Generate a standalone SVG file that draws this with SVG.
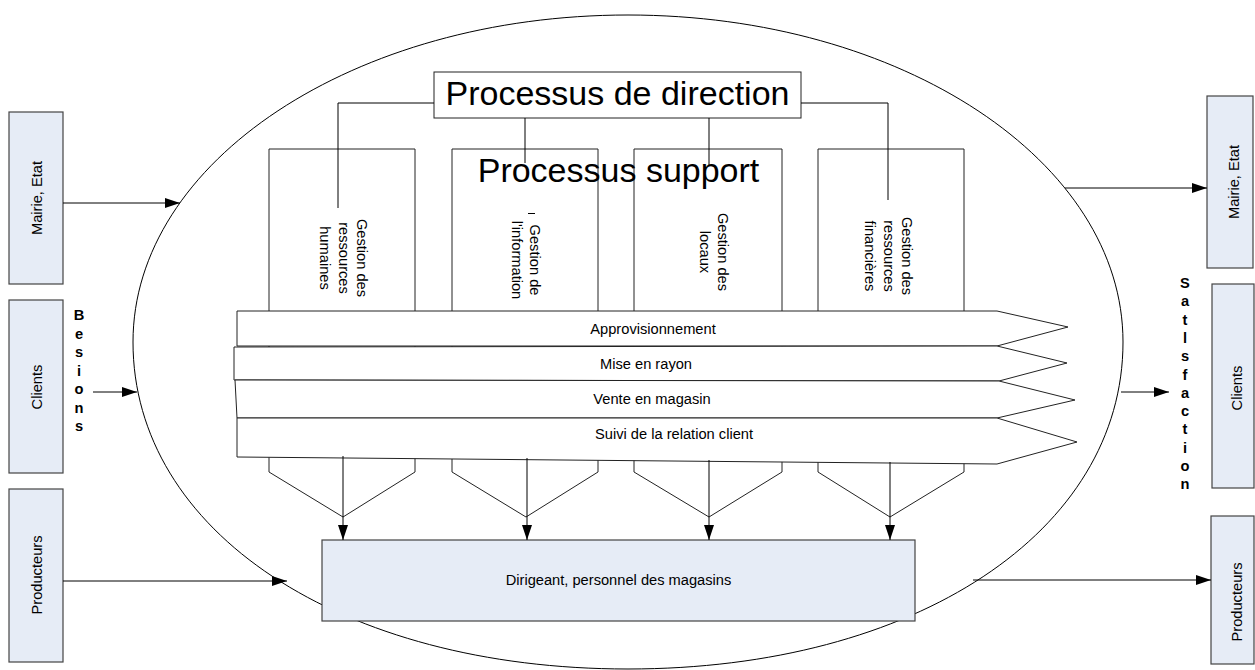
<svg xmlns="http://www.w3.org/2000/svg" width="1255" height="670" viewBox="0 0 1255 670">
<defs>
<marker id="ah" markerWidth="15" markerHeight="10" refX="15" refY="5" orient="auto" markerUnits="userSpaceOnUse"><path d="M0,0 L15,5 L0,10 Z" fill="#000"/></marker>
<style>
.box{fill:#E6ECF6;stroke:#444;stroke-width:1.2}
.wbox{fill:#fff;stroke:#222;stroke-width:1}
.ln{fill:none;stroke:#000;stroke-width:1}
.arr{fill:none;stroke:#000;stroke-width:1;marker-end:url(#ah)}
.t{font-family:"Liberation Sans",Arial,sans-serif;font-size:14.67px;fill:#000}
.big{font-family:"Liberation Sans",Arial,sans-serif;font-size:34px;fill:#000}
.bl{font-family:"Liberation Sans",Arial,sans-serif;font-size:14.67px;font-weight:bold;fill:#000}
</style>
</defs>
<rect width="1255" height="670" fill="#fff"/>

<g id="ellipse">
<path class="ln" d="M628,15 C901.4,15 1123,161.4 1123,342 C1123,531.7 915.1,669 628,669 C340.9,669 133,531.7 133,342 C133,161.4 354.6,15 628,15 Z"/>
</g>

<g id="support-rh"><path class="wbox" d="M269,149 L415,149 L415,472 L343,517 L269,472 Z"/>
<text class="t" transform="translate(342,258) rotate(90)" text-anchor="middle"><tspan x="0" y="-15">Gestion des</tspan><tspan x="0" y="3.5">ressources</tspan><tspan x="0" y="22">humaines</tspan></text></g>
<g id="support-info"><path class="wbox" d="M452,149 L598,149 L598,472 L526,517 L452,472 Z"/>
<text class="t" transform="translate(525,260) rotate(90)" text-anchor="middle"><tspan x="0" y="-5">Gestion de</tspan><tspan x="0" y="13">l'information</tspan></text>
<line class="ln" x1="528" y1="213.5" x2="535" y2="213.5"/></g>
<g id="support-locaux"><path class="wbox" d="M634,149 L782,149 L782,472 L709,517 L634,472 Z"/>
<text class="t" transform="translate(712,252) rotate(90)" text-anchor="middle"><tspan x="0" y="-6">Gestion des</tspan><tspan x="0" y="12">locaux</tspan></text></g>
<g id="support-fin"><path class="wbox" d="M818,149 L964,149 L964,472 L890,517 L818,472 Z"/>
<text class="t" transform="translate(891,256) rotate(90)" text-anchor="middle"><tspan x="0" y="-11">Gestion des</tspan><tspan x="0" y="7.5">ressources</tspan><tspan x="0" y="26">financières</tspan></text></g>

<g id="band-appro"><path class="wbox" d="M237,311 L997,311 L1068,327 L997,346 L237,346 Z"/>
<text class="t" x="653" y="334" text-anchor="middle">Approvisionnement</text></g>
<g id="band-rayon"><path class="wbox" d="M234,347 L997,346 L1067,363 L999,381 L234,380 Z"/>
<text class="t" x="646" y="369" text-anchor="middle">Mise en rayon</text></g>
<g id="band-vente"><path class="wbox" d="M235,380 L999,381 L1075,400 L997,418 L237,418 Z"/>
<text class="t" x="652" y="404" text-anchor="middle">Vente en magasin</text></g>
<g id="band-suivi"><path class="wbox" d="M237,418 L997,418 L1077,442 L997,464 L237,457 Z"/>
<text class="t" x="674" y="439" text-anchor="middle">Suivi de la relation client</text></g>

<g id="direction"><rect class="wbox" x="434" y="72" width="367" height="46"/>
<text class="big" x="617.5" y="105" text-anchor="middle">Processus de direction</text></g>

<g id="support-title"><text class="big" x="618.5" y="182" text-anchor="middle">Processus support</text></g>

<g id="dirigeant"><rect class="box" x="322" y="540" width="593" height="81"/>
<text class="t" x="618.5" y="585" text-anchor="middle">Dirigeant, personnel des magasins</text></g>

<g id="mairie-l"><rect class="box" x="9" y="112" width="54" height="172"/>
<text class="t" transform="translate(42,198) rotate(-90)" text-anchor="middle">Mairie, Etat</text></g>
<g id="clients-l"><rect class="box" x="9" y="300" width="54" height="173"/>
<text class="t" transform="translate(42,387) rotate(-90)" text-anchor="middle">Clients</text></g>
<g id="producteurs-l"><rect class="box" x="9" y="489" width="54" height="173"/>
<text class="t" transform="translate(42,575) rotate(-90)" text-anchor="middle">Producteurs</text></g>

<g id="mairie-r"><rect class="box" x="1207" y="96" width="46" height="172"/>
<text class="t" transform="translate(1239,182) rotate(-90)" text-anchor="middle">Mairie, Etat</text></g>
<g id="clients-r"><rect class="box" x="1212" y="284" width="42" height="204"/>
<text class="t" transform="translate(1242,388) rotate(-90)" text-anchor="middle">Clients</text></g>
<g id="producteurs-r"><rect class="box" x="1211" y="516" width="43" height="148"/>
<text class="t" transform="translate(1242,602) rotate(-90)" text-anchor="middle">Producteurs</text></g>

<g id="label-besoins"><text class="bl" text-anchor="middle"><tspan x="79" y="320">B</tspan><tspan x="79" y="338.5">e</tspan><tspan x="79" y="357">s</tspan><tspan x="79" y="375.5">i</tspan><tspan x="79" y="394">o</tspan><tspan x="79" y="412.5">n</tspan><tspan x="79" y="431">s</tspan></text></g>
<g id="label-satisfaction"><text class="bl" text-anchor="middle"><tspan x="1185" y="288">S</tspan><tspan x="1185" y="306.3">a</tspan><tspan x="1185" y="324.6">t</tspan><tspan x="1185" y="342.9">l</tspan><tspan x="1185" y="361.2">s</tspan><tspan x="1185" y="379.5">f</tspan><tspan x="1185" y="397.8">a</tspan><tspan x="1185" y="416.1">c</tspan><tspan x="1185" y="434.4">t</tspan><tspan x="1185" y="452.7">i</tspan><tspan x="1185" y="471">o</tspan><tspan x="1185" y="489.3">n</tspan></text></g>

<g id="connectors">
<polyline class="ln" points="434,103 338,103 338,208"/>
<line class="ln" x1="525" y1="118" x2="525" y2="163"/>
<line class="ln" x1="709" y1="118" x2="709" y2="165"/>
<polyline class="ln" points="801,103 888,103 888,200"/>
<line class="arr" x1="343" y1="456" x2="343" y2="540"/>
<line class="arr" x1="527" y1="458" x2="527" y2="540"/>
<line class="arr" x1="709" y1="460" x2="709" y2="540"/>
<line class="arr" x1="890" y1="462" x2="890" y2="540"/>
<line class="arr" x1="63" y1="203" x2="180" y2="203"/>
<line class="arr" x1="93" y1="392" x2="137" y2="392"/>
<line class="arr" x1="63" y1="581" x2="287" y2="581"/>
<line class="arr" x1="1065" y1="188" x2="1207" y2="188"/>
<line class="arr" x1="1121" y1="392" x2="1169" y2="392"/>
<line class="arr" x1="973" y1="580" x2="1211" y2="580"/>
</g>
</svg>
